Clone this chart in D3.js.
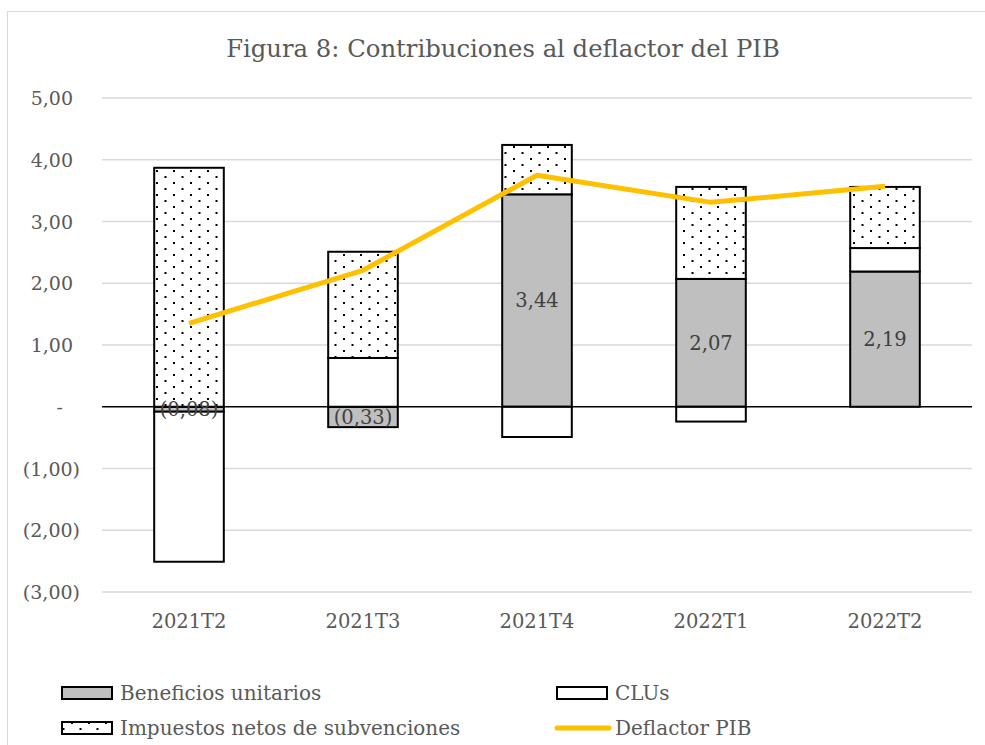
<!DOCTYPE html>
<html><head><meta charset="utf-8">
<script src="https://cdn.jsdelivr.net/npm/d3@7"></script>
<style>body{margin:0;background:#fff}svg{display:block}</style>
</head><body><svg id="c" width="985" height="745"></svg>
<script>
const categories = ["2021T2","2021T3","2021T4","2022T1","2022T2"];
const beneficios = [-0.08, -0.33, 3.44, 2.07, 2.19];
const clus = [-2.43, 0.79, -0.49, -0.24, 0.38];
const impuestos = [3.87, 1.72, 0.80, 1.49, 0.99];
const deflactor = [1.35, 2.21, 3.75, 3.31, 3.57];
const yTicks = [-3, -2, -1, 0, 1, 2, 3, 4, 5];
const labelSeries = "beneficios";

const font = "'DejaVu Serif', 'Liberation Serif', serif";
const svg = d3.select("#c");
const defs = svg.append("defs");
const pat = defs.append("pattern").attr("id","dots").attr("patternUnits","userSpaceOnUse")
  .attr("width",17).attr("height",12);
pat.append("rect").attr("width",17).attr("height",12).attr("fill","#fff");
pat.append("rect").attr("x",3).attr("y",2).attr("width",2).attr("height",2).attr("fill","#000");
pat.append("rect").attr("x",11.5).attr("y",8).attr("width",2).attr("height",2).attr("fill","#000");

svg.append("rect").attr("x",7.5).attr("y",11.5).attr("width",990).attr("height",760)
  .attr("fill","#fff").attr("stroke","#d9d9d9").attr("stroke-width",1);

const left = 102, right = 972;
const x = d3.scaleBand().domain(categories).range([left,right]).paddingInner(0.6).paddingOuter(0.3);
const y = d3.scaleLinear().domain([-3,5]).range([592,98]);

svg.append("text").attr("x",503).attr("y",57).attr("text-anchor","middle")
  .attr("font-family",font).attr("font-size",24.3).attr("fill","#595959")
  .text("Figura 8: Contribuciones al deflactor del PIB");

const fmt = v => {
  if (v === 0) return "-";
  const s = Math.abs(v).toFixed(2).replace(".", ",");
  return v < 0 ? "(" + s + ")" : s;
};

svg.append("g").selectAll("line").data(yTicks.filter(t=>t!==0)).join("line")
  .attr("x1",left).attr("x2",right).attr("y1",d=>y(d)).attr("y2",d=>y(d))
  .attr("stroke","#d9d9d9").attr("stroke-width",1.3);

const yAxis = d3.axisLeft(y).tickValues(yTicks).tickFormat(fmt).tickSize(0).tickPadding(0);
const gy = svg.append("g").attr("transform",`translate(80,0)`).call(yAxis);
gy.select(".domain").remove();
gy.selectAll("text").attr("font-family",font).attr("font-size",19).attr("fill","#595959")
  .attr("dy","0.35em").attr("dx",d=>d<0?0:(d===0?-17:-7));

const seriesDefs = [
  {key:"beneficios", vals:beneficios, fill:"#bfbfbf"},
  {key:"clus", vals:clus, fill:"#ffffff"},
  {key:"impuestos", vals:impuestos, fill:"url(#dots)"}
];
const rects = [];
categories.forEach((c,i)=>{
  let pos = 0, neg = 0;
  seriesDefs.forEach(s=>{
    const v = s.vals[i];
    let y0, y1;
    if (v >= 0) { y0 = pos; y1 = pos + v; pos = y1; }
    else { y0 = neg; y1 = neg + v; neg = y1; }
    rects.push({c, key:s.key, fill:s.fill, y0, y1, v});
  });
});
const bw = x.bandwidth();
svg.append("g").selectAll("rect").data(rects).join("rect")
  .attr("x",d=>x(d.c)).attr("width",bw)
  .attr("y",d=>y(Math.max(d.y0,d.y1))).attr("height",d=>Math.abs(y(d.y0)-y(d.y1)))
  .attr("fill",d=>d.fill).attr("stroke","#000").attr("stroke-width",2);

svg.append("line").attr("x1",left).attr("x2",right).attr("y1",y(0)).attr("y2",y(0))
  .attr("stroke","#000").attr("stroke-width",1.5);

const line = d3.line().x((d,i)=>x(categories[i])+bw/2).y(d=>y(d));
svg.append("path").datum(deflactor).attr("d",line).attr("fill","none")
  .attr("stroke","#ffc000").attr("stroke-width",5).attr("stroke-linejoin","round");

svg.append("g").selectAll("text").data(rects.filter(d=>d.key===labelSeries)).join("text")
  .attr("x",d=>x(d.c)+bw/2).attr("y",d=>y((d.y0+d.y1)/2)).attr("dy","0.35em")
  .attr("text-anchor","middle").attr("font-family",font).attr("font-size",19.5).attr("fill","#404040")
  .text(d=>fmt(d.v));

const xAxis = d3.axisBottom(x).tickSize(0).tickPadding(0);
const gx = svg.append("g").attr("transform",`translate(0,615)`).call(xAxis);
gx.select(".domain").remove();
gx.selectAll("text").attr("font-family",font).attr("font-size",19.5).attr("fill","#595959").attr("dy","0.35em").attr("y",6);

const legend = [
  {name:"Beneficios unitarios", type:"rect", fill:"#bfbfbf", lx:62, ly:693},
  {name:"CLUs", type:"rect", fill:"#ffffff", lx:557, ly:693},
  {name:"Impuestos netos de subvenciones", type:"rect", fill:"url(#dots)", lx:62, ly:728},
  {name:"Deflactor PIB", type:"line", lx:557, ly:728}
];
const lg = svg.append("g");
legend.forEach(l=>{
  if (l.type==="rect") {
    lg.append("rect").attr("x",l.lx).attr("y",l.ly-6).attr("width",50).attr("height",12)
      .attr("fill",l.fill).attr("stroke","#000").attr("stroke-width",2);
  } else {
    lg.append("line").attr("x1",l.lx).attr("x2",l.lx+52).attr("y1",l.ly).attr("y2",l.ly)
      .attr("stroke","#ffc000").attr("stroke-width",5).attr("stroke-linecap","round");
  }
  lg.append("text").attr("x",l.lx+58).attr("y",l.ly).attr("dy","0.35em")
    .attr("font-family",font).attr("font-size",20).attr("fill","#595959").text(l.name);
});
</script></body></html>
